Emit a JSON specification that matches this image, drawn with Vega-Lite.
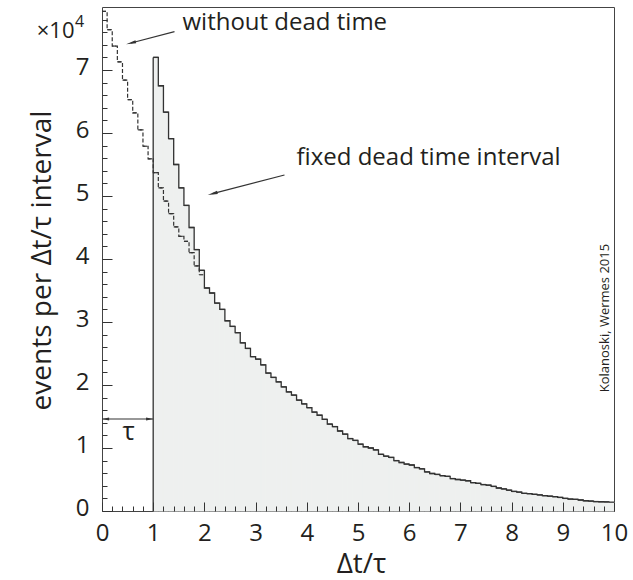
{
  "$schema": "https://vega.github.io/schema/vega-lite/v6.json",
  "width": 512,
  "height": 504,
  "autosize": {"type": "none"},
  "padding": {"left": 102, "top": 7, "right": 19, "bottom": 69},
  "background": "white",
  "config": {
    "view": {"stroke": "#444", "strokeWidth": 1},
    "font": "Open Sans",
    "axis": {
      "labelFont": "Open Sans", "titleFont": "Open Sans",
      "labelColor": "#231f20", "titleColor": "#231f20",
      "grid": false, "labelOverlap": false, "labelFlush": false,
      "titleFontWeight": "normal"
    }
  },
  "resolve": {"axis": {"x": "independent", "y": "independent"}},
  "datasets": {
    "fixed": [
      {"t0": 1.0, "t1": 1.1, "n": 72000}, {"t0": 1.1, "t1": 1.2, "n": 67500}, {"t0": 1.2, "t1": 1.3, "n": 63300},
      {"t0": 1.3, "t1": 1.4, "n": 59100}, {"t0": 1.4, "t1": 1.5, "n": 55000}, {"t0": 1.5, "t1": 1.6, "n": 51300},
      {"t0": 1.6, "t1": 1.7, "n": 48500}, {"t0": 1.7, "t1": 1.8, "n": 45000}, {"t0": 1.8, "t1": 1.9, "n": 41500},
      {"t0": 1.9, "t1": 2.0, "n": 38200}, {"t0": 2.0, "t1": 2.1, "n": 35400}, {"t0": 2.1, "t1": 2.2, "n": 34600},
      {"t0": 2.2, "t1": 2.3, "n": 33000}, {"t0": 2.3, "t1": 2.4, "n": 32000}, {"t0": 2.4, "t1": 2.5, "n": 30200},
      {"t0": 2.5, "t1": 2.6, "n": 29300}, {"t0": 2.6, "t1": 2.7, "n": 28300}, {"t0": 2.7, "t1": 2.8, "n": 26700},
      {"t0": 2.8, "t1": 2.9, "n": 25800}, {"t0": 2.9, "t1": 3.0, "n": 24500}, {"t0": 3.0, "t1": 3.1, "n": 24100},
      {"t0": 3.1, "t1": 3.2, "n": 23200}, {"t0": 3.2, "t1": 3.3, "n": 21900}, {"t0": 3.3, "t1": 3.4, "n": 21200},
      {"t0": 3.4, "t1": 3.5, "n": 20500}, {"t0": 3.5, "t1": 3.6, "n": 19700}, {"t0": 3.6, "t1": 3.7, "n": 18900},
      {"t0": 3.7, "t1": 3.8, "n": 18400}, {"t0": 3.8, "t1": 3.9, "n": 17600}, {"t0": 3.9, "t1": 4.0, "n": 17000},
      {"t0": 4.0, "t1": 4.1, "n": 16400}, {"t0": 4.1, "t1": 4.2, "n": 15700}, {"t0": 4.2, "t1": 4.3, "n": 15200},
      {"t0": 4.3, "t1": 4.4, "n": 14550}, {"t0": 4.4, "t1": 4.5, "n": 13800}, {"t0": 4.5, "t1": 4.6, "n": 13400},
      {"t0": 4.6, "t1": 4.7, "n": 12700}, {"t0": 4.7, "t1": 4.8, "n": 12200}, {"t0": 4.8, "t1": 4.9, "n": 11500},
      {"t0": 4.9, "t1": 5.0, "n": 11200}, {"t0": 5.0, "t1": 5.1, "n": 10600}, {"t0": 5.1, "t1": 5.2, "n": 10200},
      {"t0": 5.2, "t1": 5.3, "n": 10000}, {"t0": 5.3, "t1": 5.4, "n": 9700}, {"t0": 5.4, "t1": 5.5, "n": 9000},
      {"t0": 5.5, "t1": 5.6, "n": 8700}, {"t0": 5.6, "t1": 5.7, "n": 8500}, {"t0": 5.7, "t1": 5.8, "n": 8000},
      {"t0": 5.8, "t1": 5.9, "n": 7700}, {"t0": 5.9, "t1": 6.0, "n": 7450}, {"t0": 6.0, "t1": 6.1, "n": 7300},
      {"t0": 6.1, "t1": 6.2, "n": 6900}, {"t0": 6.2, "t1": 6.3, "n": 6700}, {"t0": 6.3, "t1": 6.4, "n": 6200},
      {"t0": 6.4, "t1": 6.5, "n": 5950}, {"t0": 6.5, "t1": 6.6, "n": 5800}, {"t0": 6.6, "t1": 6.7, "n": 5600},
      {"t0": 6.7, "t1": 6.8, "n": 5500}, {"t0": 6.8, "t1": 6.9, "n": 5150}, {"t0": 6.9, "t1": 7.0, "n": 5000},
      {"t0": 7.0, "t1": 7.1, "n": 4900}, {"t0": 7.1, "t1": 7.2, "n": 4800}, {"t0": 7.2, "t1": 7.3, "n": 4500},
      {"t0": 7.3, "t1": 7.4, "n": 4400}, {"t0": 7.4, "t1": 7.5, "n": 4200}, {"t0": 7.5, "t1": 7.6, "n": 4100},
      {"t0": 7.6, "t1": 7.7, "n": 3900}, {"t0": 7.7, "t1": 7.8, "n": 3650}, {"t0": 7.8, "t1": 7.9, "n": 3500},
      {"t0": 7.9, "t1": 8.0, "n": 3300}, {"t0": 8.0, "t1": 8.1, "n": 3100}, {"t0": 8.1, "t1": 8.2, "n": 3000},
      {"t0": 8.2, "t1": 8.3, "n": 2800}, {"t0": 8.3, "t1": 8.4, "n": 2750}, {"t0": 8.4, "t1": 8.5, "n": 2650},
      {"t0": 8.5, "t1": 8.6, "n": 2550}, {"t0": 8.6, "t1": 8.7, "n": 2430}, {"t0": 8.7, "t1": 8.8, "n": 2350},
      {"t0": 8.8, "t1": 8.9, "n": 2270}, {"t0": 8.9, "t1": 9.0, "n": 2150}, {"t0": 9.0, "t1": 9.1, "n": 2000},
      {"t0": 9.1, "t1": 9.2, "n": 1900}, {"t0": 9.2, "t1": 9.3, "n": 1850}, {"t0": 9.3, "t1": 9.4, "n": 1750},
      {"t0": 9.4, "t1": 9.5, "n": 1630}, {"t0": 9.5, "t1": 9.6, "n": 1580}, {"t0": 9.6, "t1": 9.7, "n": 1500},
      {"t0": 9.7, "t1": 9.8, "n": 1470}, {"t0": 9.8, "t1": 9.9, "n": 1440}, {"t0": 9.9, "t1": 10.0, "n": 1400}
    ],
    "nodead": [
      {"t0": 0.0, "t1": 0.1, "n": 79300}, {"t0": 0.1, "t1": 0.2, "n": 76400}, {"t0": 0.2, "t1": 0.3, "n": 73800},
      {"t0": 0.3, "t1": 0.4, "n": 71300}, {"t0": 0.4, "t1": 0.5, "n": 68400}, {"t0": 0.5, "t1": 0.6, "n": 65300},
      {"t0": 0.6, "t1": 0.7, "n": 63200}, {"t0": 0.7, "t1": 0.8, "n": 60500}, {"t0": 0.8, "t1": 0.9, "n": 57900},
      {"t0": 0.9, "t1": 1.0, "n": 55900}, {"t0": 1.0, "t1": 1.1, "n": 53700}, {"t0": 1.1, "t1": 1.2, "n": 51300},
      {"t0": 1.2, "t1": 1.3, "n": 49200}, {"t0": 1.3, "t1": 1.4, "n": 47200}, {"t0": 1.4, "t1": 1.5, "n": 45100},
      {"t0": 1.5, "t1": 1.6, "n": 43600}, {"t0": 1.6, "t1": 1.7, "n": 42800}, {"t0": 1.7, "t1": 1.8, "n": 41000},
      {"t0": 1.8, "t1": 1.9, "n": 38900}, {"t0": 1.9, "t1": 2.0, "n": 37500}
    ]
  },
  "layer": [
    {
      "data": {"name": "fixed"},
      "mark": {"type": "rect", "fill": "#eef0ef", "stroke": "#eef0ef", "strokeWidth": 1},
      "encoding": {
        "x": {
          "field": "t0", "type": "quantitative",
          "scale": {"domain": [0, 10], "nice": false, "zero": false},
          "axis": {
            "orient": "bottom",
            "title": "Δt/τ",
            "values": [0, 1, 2, 3, 4, 5, 6, 7, 8, 9, 10],
            "offset": -9,
            "ticks": true,
            "tickSize": 9,
            "tickColor": "#333",
            "tickOpacity": 1,
            "tickWidth": 1,
            "domain": false,
            "labelFontSize": 24,
            "labelPadding": 29,
            "labelBaseline": "alphabetic",
            "titleFontSize": 28,
            "titleX": 259,
            "titleY": 70,
            "titleBaseline": "alphabetic",
            "titleAlign": "center",
            "zindex": 1
          }
        },
        "x2": {"field": "t1"},
        "y": {
          "field": "n", "type": "quantitative",
          "scale": {"domain": [0, 80000], "nice": false},
          "axis": {
            "orient": "left",
            "title": "events per Δt/τ interval",
            "values": [0, 10000, 20000, 30000, 40000, 50000, 60000, 70000],
            "offset": -10,
            "ticks": true,
            "tickSize": 10,
            "tickColor": "#333",
            "tickOpacity": 1,
            "tickWidth": 1,
            "domain": false,
            "labelExpr": "format(datum.value / 10000, 'd')",
            "labelFontSize": 24,
            "labelPadding": 13,
            "labelOffset": -3,
            "labelBaseline": "middle",
            "titleFontSize": 28,
            "titleX": -62,
            "titleY": 253,
            "titleBaseline": "alphabetic",
            "titleAlign": "center",
            "zindex": 1
          }
        },
        "y2": {"datum": 0}
      }
    },
    {
      "data": {"name": "nodead"},
      "mark": {"type": "line", "interpolate": "step-after", "stroke": "#333", "strokeWidth": 1.2, "strokeDash": [4, 2]},
      "encoding": {
        "x": {
          "field": "t0", "type": "quantitative",
          "axis": {
            "orient": "bottom",
            "title": null,
            "values": [0.2,0.4,0.6,0.8,1.2,1.4,1.6,1.8,2.2,2.4,2.6,2.8,3.2,3.4,3.6,3.8,4.2,4.4,4.6,4.8,5.2,5.4,5.6,5.8,6.2,6.4,6.6,6.8,7.2,7.4,7.6,7.8,8.2,8.4,8.6,8.8,9.2,9.4,9.6,9.8],
            "offset": -5,
            "ticks": true,
            "tickSize": 5,
            "tickColor": "#333",
            "tickOpacity": 1,
            "tickWidth": 1,
            "labels": false,
            "domain": false,
            "zindex": 1
          }
        },
        "y": {
          "field": "n", "type": "quantitative",
          "axis": {
            "orient": "left",
            "title": null,
            "values": [2000,4000,6000,8000,12000,14000,16000,18000,22000,24000,26000,28000,32000,34000,36000,38000,42000,44000,46000,48000,52000,54000,56000,58000,62000,64000,66000,68000,72000,74000,76000,78000],
            "offset": -5,
            "ticks": true,
            "tickSize": 5,
            "tickColor": "#333",
            "tickOpacity": 1,
            "tickWidth": 1,
            "labels": false,
            "domain": false,
            "zindex": 1
          }
        }
      }
    },
    {
      "data": {"name": "nodead"},
      "mark": {"type": "rule", "stroke": "#333", "strokeWidth": 1.2, "strokeDash": [4, 2]},
      "encoding": {
        "x": {"field": "t0", "type": "quantitative", "axis": null},
        "x2": {"field": "t1"},
        "y": {"field": "n", "type": "quantitative", "axis": null}
      }
    },
    {
      "data": {"name": "fixed"},
      "mark": {"type": "line", "interpolate": "step-after", "stroke": "#333", "strokeWidth": 1.3},
      "encoding": {
        "x": {"field": "t0", "type": "quantitative", "axis": null},
        "y": {"field": "n", "type": "quantitative", "axis": null}
      }
    },
    {
      "data": {"name": "fixed"},
      "mark": {"type": "rule", "stroke": "#333", "strokeWidth": 1.3},
      "encoding": {
        "x": {"field": "t0", "type": "quantitative", "axis": null},
        "x2": {"field": "t1"},
        "y": {"field": "n", "type": "quantitative", "axis": null}
      }
    },
    {
      "data": {"name": "fixed"},
      "transform": [{"filter": "datum.t0 === 1"}],
      "mark": {"type": "rule", "stroke": "#333", "strokeWidth": 1.3},
      "encoding": {
        "x": {"field": "t0", "type": "quantitative", "axis": null},
        "y": {"field": "n", "type": "quantitative", "axis": null},
        "y2": {"datum": 0}
      }
    },
    {
      "data": {"values": [{"label": "without dead time"}]},
      "mark": {"type": "text", "align": "left", "baseline": "middle", "fontSize": 24, "font": "Open Sans", "color": "#231f20"},
      "encoding": {
        "x": {"datum": 1.572, "type": "quantitative", "axis": null},
        "y": {"datum": 77500, "type": "quantitative", "axis": null},
        "text": {"field": "label"}
      }
    },
    {
      "data": {"values": [{"label": "fixed dead time interval"}]},
      "mark": {"type": "text", "align": "left", "baseline": "middle", "fontSize": 24, "font": "Open Sans", "color": "#231f20"},
      "encoding": {
        "x": {"datum": 3.8, "type": "quantitative", "axis": null},
        "y": {"datum": 56000, "type": "quantitative", "axis": null},
        "text": {"field": "label"}
      }
    },
    {
      "data": {"values": [{"label": "×10"}]},
      "mark": {"type": "text", "align": "right", "baseline": "alphabetic", "fontSize": 22, "font": "Open Sans", "color": "#231f20"},
      "encoding": {
        "x": {"datum": -0.537, "type": "quantitative", "axis": null},
        "y": {"datum": 75080, "type": "quantitative", "axis": null},
        "text": {"field": "label"}
      }
    },
    {
      "data": {"values": [{"label": "4"}]},
      "mark": {"type": "text", "align": "left", "baseline": "alphabetic", "fontSize": 16, "font": "Open Sans", "color": "#231f20"},
      "encoding": {
        "x": {"datum": -0.525, "type": "quantitative", "axis": null},
        "y": {"datum": 76800, "type": "quantitative", "axis": null},
        "text": {"field": "label"}
      }
    },
    {
      "data": {"values": [{"label": "τ"}]},
      "mark": {"type": "text", "align": "center", "baseline": "alphabetic", "fontSize": 26, "font": "Open Sans", "color": "#231f20"},
      "encoding": {
        "x": {"datum": 0.52, "type": "quantitative", "axis": null},
        "y": {"datum": 11270, "type": "quantitative", "axis": null},
        "text": {"field": "label"}
      }
    },
    {
      "data": {"values": [{"label": "Kolanoski, Wermes 2015"}]},
      "mark": {"type": "text", "align": "center", "baseline": "alphabetic", "angle": 270, "fontSize": 13, "font": "Open Sans", "color": "#231f20"},
      "encoding": {
        "x": {"datum": 9.912, "type": "quantitative", "axis": null},
        "y": {"datum": 30630, "type": "quantitative", "axis": null},
        "text": {"field": "label"}
      }
    },
    {
      "data": {"values": [{"arrow": "without dead time"}]},
      "mark": {"type": "rule", "stroke": "#333", "strokeWidth": 1.2},
      "encoding": {
        "x": {"datum": 1.416, "type": "quantitative", "axis": null},
        "y": {"datum": 76080, "type": "quantitative", "axis": null},
        "x2": {"datum": 0.566},
        "y2": {"datum": 74290}
      }
    },
    {
      "data": {"values": [{"arrow": "without dead time"}]},
      "mark": {"type": "point", "shape": "M -1 0 L 1 -0.32 L 1 0.32 Z", "filled": true, "fill": "#333", "stroke": null, "size": 100, "angle": -14.6, "opacity": 1},
      "encoding": {
        "x": {"datum": 0.566, "type": "quantitative", "axis": null},
        "y": {"datum": 74290, "type": "quantitative", "axis": null}
      }
    },
    {
      "data": {"values": [{"arrow": "fixed dead time interval"}]},
      "mark": {"type": "rule", "stroke": "#333", "strokeWidth": 1.2},
      "encoding": {
        "x": {"datum": 3.564, "type": "quantitative", "axis": null},
        "y": {"datum": 53330, "type": "quantitative", "axis": null},
        "x2": {"datum": 2.16},
        "y2": {"datum": 50370}
      }
    },
    {
      "data": {"values": [{"arrow": "fixed dead time interval"}]},
      "mark": {"type": "point", "shape": "M -1 0 L 1 -0.32 L 1 0.32 Z", "filled": true, "fill": "#333", "stroke": null, "size": 100, "angle": -14.6, "opacity": 1},
      "encoding": {
        "x": {"datum": 2.16, "type": "quantitative", "axis": null},
        "y": {"datum": 50370, "type": "quantitative", "axis": null}
      }
    },
    {
      "data": {"values": [{"arrow": "τ"}]},
      "mark": {"type": "rule", "stroke": "#333", "strokeWidth": 1.2},
      "encoding": {
        "x": {"datum": 0.0, "type": "quantitative", "axis": null},
        "x2": {"datum": 1.0},
        "y": {"datum": 14600, "type": "quantitative", "axis": null}
      }
    },
    {
      "data": {"values": [{"arrow": "τ left"}]},
      "mark": {"type": "point", "shape": "M -1 0 L 1 -0.45 L 1 0.45 Z", "filled": true, "fill": "#333", "stroke": null, "size": 50, "angle": 0, "opacity": 1},
      "encoding": {
        "x": {"datum": 0.07, "type": "quantitative", "axis": null},
        "y": {"datum": 14600, "type": "quantitative", "axis": null}
      }
    },
    {
      "data": {"values": [{"arrow": "τ right"}]},
      "mark": {"type": "point", "shape": "M -1 0 L 1 -0.45 L 1 0.45 Z", "filled": true, "fill": "#333", "stroke": null, "size": 50, "angle": 180, "opacity": 1},
      "encoding": {
        "x": {"datum": 0.93, "type": "quantitative", "axis": null},
        "y": {"datum": 14600, "type": "quantitative", "axis": null}
      }
    }
  ]
}
